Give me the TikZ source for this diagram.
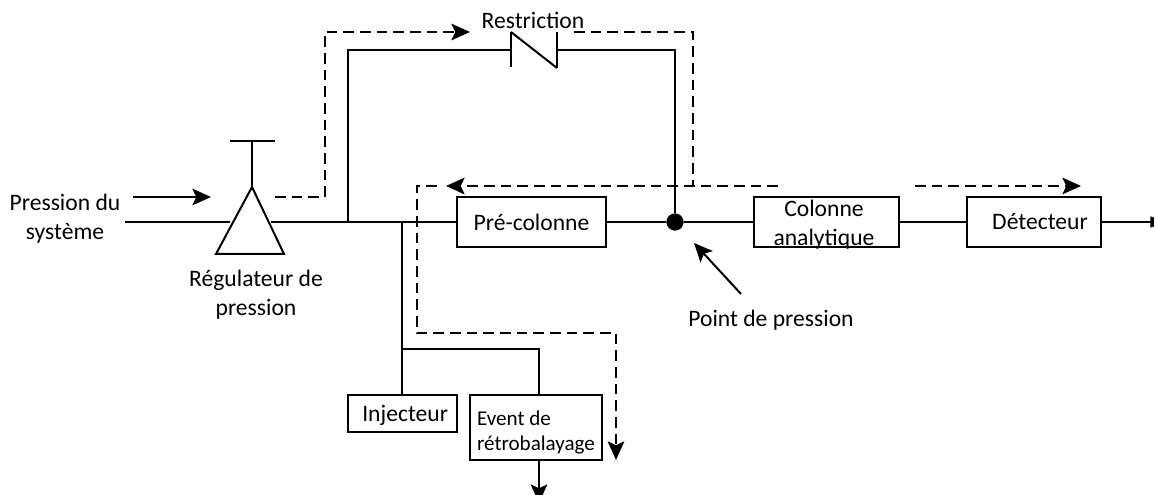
\documentclass[tikz,border=0pt]{standalone}
\usepackage{fontspec}
\setmainfont{Carlito}
\usetikzlibrary{arrows.meta}

\tikzset{
    pipe/.style={line width=1.5pt,black},
    pipethick/.style={line width=1.7pt,black},
    flow/.style={line width=1.5pt,black,dash pattern=on 8pt off 4.5pt},
    tip/.style={-{Stealth[length=14pt,width=12.5pt,inset=3pt]}},
    tipout/.style={-{Stealth[length=14pt,width=8pt,inset=0pt]}},
    box/.style={draw,line width=1.4pt,rectangle,inner sep=0pt,align=center},
    txt/.style={inner sep=0pt,align=center,font=\fontsize{17.7pt}{21.7pt}\selectfont},
    joint/.style={circle,fill=black,draw=black,inner sep=0pt,minimum size=12.5pt}
}

\begin{document}
\begin{tikzpicture}[x=0.75pt,y=-0.75pt]

    \path[use as bounding box,clip] (0,0) rectangle (1154,495);

    \coordinate (inlet) at (125,222);
    \coordinate (regin) at (230,222);
    \coordinate (regout) at (271,222);
    \coordinate (apex) at (252,187);
    \coordinate (baseleft) at (216,254);
    \coordinate (baseright) at (284,254);
    \coordinate (knob) at (252,141);
    \coordinate (knobleft) at (230,141);
    \coordinate (knobright) at (275,141);

    \node[box,minimum width=112pt,minimum height=37.5pt,txt] (precol) at (531.5,222) {Pré-colonne};
    \node[box,minimum width=109pt,minimum height=38pt] (colonne) at (826.5,222) {};
    \node[box,minimum width=100.5pt,minimum height=38pt,txt] (detect) at (1034,222) {\hspace{9pt}Détecteur};
    \node[box,minimum width=82pt,minimum height=28pt,txt] (inject) at (402.5,413.5) {\rule{0pt}{15pt}\hspace{4pt}Injecteur};
    \node[box,minimum width=99pt,minimum height=49pt,font=\fontsize{15.8pt}{19pt}\selectfont,align=left] (event) at (536,427.5) {\rule{0pt}{18pt}Event de\\rétrobalayage};
    \node[joint] (press) at (675,222) {};

    \draw[pipe] (inlet) -- (regin);
    \draw[pipe] (regout) -- (precol.west);
    \draw[pipe] (baseleft) -- (apex) -- (baseright) -- cycle;
    \draw[pipe] (apex) -- (knob);
    \draw[pipe] (knobleft) -- (knobright);
    \draw[pipe] (precol.east) -- (press);
    \draw[pipe] (press) -- (colonne.west);
    \draw[pipe] (colonne.east) -- (detect.west);

    \coordinate (outlet) at (1169,222);
    \draw[pipe,tipout] (detect.east) -- (outlet);

    \coordinate (teein) at (339,222);
    \coordinate (teeup) at (348,222);
    \coordinate (topleft) at (348,50);
    \coordinate (restin) at (511,50);
    \coordinate (restout) at (557,50);
    \coordinate (topright) at (675,50);
    \coordinate (resta) at (511,32);
    \coordinate (restb) at (511,67);
    \coordinate (restc) at (557,32);
    \coordinate (restd) at (557,68);

    \draw[pipethick] (teein) -- (teeup) -- (topleft) -- (restin);
    \draw[pipethick] (restout) -- (topright) -- (press);
    \draw[pipe] (resta) -- (restb);
    \draw[pipe] (restc) -- (restd);
    \draw[pipe] (resta) -- (restd);

    \coordinate (drop) at (402,222);
    \coordinate (branch) at (402,349);
    \coordinate (branchr) at (539,349);
    \coordinate (ventin) at (539,395);
    \coordinate (ventout) at (539,460);
    \coordinate (ventend) at (539,503);
    \coordinate (injin) at (402,395);

    \draw[pipe] (drop) -- (injin);
    \draw[pipe] (branch) -- (branchr) -- (ventin);
    \draw[pipe,tip] (ventout) -- (ventend);

    \coordinate (arra) at (133,197);
    \coordinate (arrb) at (211,197);
    \coordinate (arrc) at (741,294);
    \coordinate (arrd) at (694,243);

    \draw[pipe,tip] (arra) -- (arrb);
    \draw[pipe,tip] (arrc) -- (arrd);

    \coordinate (fa) at (275,197);
    \coordinate (fb) at (325,197);
    \coordinate (fc) at (325,32);
    \coordinate (fd) at (470,32);
    \draw[flow,tip] (fa) -- (fb) -- (fc) -- (fd);

    \coordinate (ga) at (574,32);
    \coordinate (gb) at (693,32);
    \coordinate (gc) at (693,186);
    \draw[flow] (ga) -- (gb) -- (gc);

    \coordinate (ha) at (778,186);
    \coordinate (hb) at (446,186);
    \draw[flow,tip] (ha) -- (hb);

    \coordinate (ia) at (437,186);
    \coordinate (ib) at (417,186);
    \coordinate (ic) at (417,333);
    \coordinate (id) at (616,333);
    \coordinate (ie) at (616,460);
    \draw[flow,tip] (ia) -- (ib) -- (ic) -- (id) -- (ie);

    \coordinate (ja) at (915,186);
    \coordinate (jb) at (1081,186);
    \draw[flow,tip] (ja) -- (jb);

    \node[txt] (syslabel) at (65,219) {Pression du\\système};
    \node[txt] (reglabel) at (256,295) {Régulateur de\\pression};
    \node[txt] (restlabel) at (533,20) {Restriction};
    \node[txt] (presslabel) at (771,320) {Point de pression};
    \node[txt] (collabel) at (824,225) {Colonne\\analytique};

\end{tikzpicture}
\end{document}
